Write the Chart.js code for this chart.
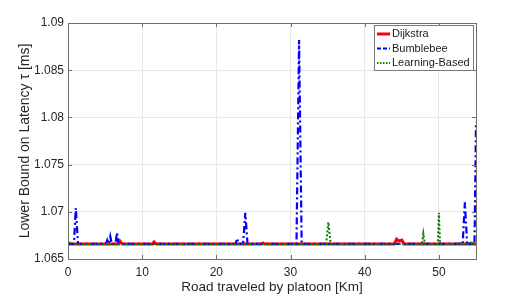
<!DOCTYPE html>
<html>
<head>
<meta charset="utf-8">
<script src="https://cdn.jsdelivr.net/npm/chart.js@4"></script>
<style>
  html, body { margin: 0; padding: 0; background: #fff; }
  #wrap { width: 526px; height: 297px; }
</style>
</head>
<body>
<div id="wrap"><canvas id="myChart" width="526" height="297"></canvas></div>
<script>
// Datos
const base = 1.0666;

const dijkstraKm = [0, 6.8, 7.0, 7.3, 11.4, 11.6, 11.9, 26.1, 26.3, 26.5, 44.0, 44.3, 44.6, 45.0, 45.3, 55];
const dijkstraLat = [base, base, 1.0669, base, base, 1.0668, base, base, 1.0667, base, base, 1.0671, 1.0669, 1.0670, base, base];

const bumblebeeKm = [0, 0.8, 1.05, 1.35, 5.1, 5.3, 5.5, 5.7, 5.9, 6.4, 6.6, 6.8, 22.6, 22.8, 23.0, 23.6, 23.9, 24.2, 30.8, 31.15, 31.5, 53.2, 53.5, 53.8, 54.2, 54.4, 54.6, 54.8, 55];
const bumblebeeLat = [base, base, 1.0704, base, base, 1.0670, base, 1.0674, base, base, 1.0678, base, base, 1.0672, base, base, 1.0699, base, base, 1.0882, base, base, 1.0710, base, base, 1.0669, base, base, 1.0795];

const learningKm = [0, 0.2, 0.5, 34.8, 35.1, 35.4, 47.7, 47.9, 48.1, 49.85, 50.0, 50.15, 52.5, 52.7, 52.9, 54.2, 54.4, 54.6, 55];
const learningLat = [1.0667, 1.0669, base, base, 1.0689, base, base, 1.0677, base, base, 1.0699, base, base, 1.0668, base, base, 1.0669, base, base];

const xTicks = [0, 10, 20, 30, 40, 50];
const yTicks = [1.065, 1.07, 1.075, 1.08, 1.085, 1.09];

const toPoints = (xs, ys) => xs.map((x, i) => ({ x: x, y: ys[i] }));

const series = [
    { label: 'Dijkstra', color: '#ff0000', width: 3, dash: [], legendDash: [], pts: toPoints(dijkstraKm, dijkstraLat) },
    { label: 'Bumblebee', color: '#0000ff', width: 2.2, dash: [7, 3, 2, 3], legendDash: [4, 2], pts: toPoints(bumblebeeKm, bumblebeeLat) },
    { label: 'Learning-Based', color: '#008000', width: 2, dash: [2, 2], legendDash: [1.5, 1.5], pts: toPoints(learningKm, learningLat) }
];

// caja, marcas y leyenda estilo matlab
const boxPlugin = {
    id: 'boxPlugin',
    afterDatasetsDraw(chart) {
        const ctx = chart.ctx;
        const a = chart.chartArea;
        const xs = chart.scales.x;
        const ys = chart.scales.y;
        ctx.save();
        ctx.strokeStyle = '#6e6e6e';
        ctx.lineWidth = 1;
        ctx.strokeRect(Math.round(a.left) + 0.5, Math.round(a.top) + 0.5, Math.round(a.right - a.left), Math.round(a.bottom - a.top));
        ctx.beginPath();
        xTicks.forEach(t => {
            const px = Math.round(xs.getPixelForValue(t)) + 0.5;
            ctx.moveTo(px, a.bottom); ctx.lineTo(px, a.bottom - 4);
            ctx.moveTo(px, a.top); ctx.lineTo(px, a.top + 4);
        });
        yTicks.forEach(t => {
            const py = Math.round(ys.getPixelForValue(t)) + 0.5;
            ctx.moveTo(a.left, py); ctx.lineTo(a.left + 4, py);
            ctx.moveTo(a.right, py); ctx.lineTo(a.right - 4, py);
        });
        ctx.stroke();

        // leyenda
        const lx = 374, ly = 25, lw = 99, lh = 45;
        ctx.fillStyle = '#ffffff';
        ctx.fillRect(lx, ly, lw, lh);
        ctx.strokeStyle = '#7a7a7a';
        ctx.strokeRect(lx + 0.5, ly + 0.5, lw, lh);
        ctx.font = '11px "Liberation Sans", Arial, sans-serif';
        ctx.textBaseline = 'middle';
        series.forEach((s, i) => {
            const yy = 34 + i * 14.5;
            ctx.beginPath();
            ctx.strokeStyle = s.color;
            ctx.lineWidth = s.width;
            ctx.setLineDash(s.legendDash);
            ctx.moveTo(377, yy);
            ctx.lineTo(390, yy);
            ctx.stroke();
            ctx.setLineDash([]);
            ctx.fillStyle = '#1a1a1a';
            ctx.fillText(s.label, 392, yy);
        });
        ctx.restore();
    }
};

const ctx = document.getElementById('myChart');

new Chart(ctx, {
    type: 'line',
    data: {
        datasets: series.map(s => ({
            label: s.label,
            data: s.pts,
            borderColor: s.color,
            borderWidth: s.width,
            borderDash: s.dash,
            pointRadius: 0,
            tension: 0,
            fill: false
        })).reverse()
    },
    options: {
        responsive: false,
        animation: false,
        layout: { padding: { left: 0, right: 50, top: 23, bottom: 0 } },
        plugins: {
            legend: { display: false },
            tooltip: { enabled: false }
        },
        scales: {
            x: {
                type: 'linear',
                min: 0,
                max: 55,
                afterBuildTicks: (scale) => { scale.ticks = xTicks.map(v => ({ value: v })); },
                afterFit: (scale) => { scale.height = 38; },
                grid: { color: '#e8e8e8', drawTicks: false },
                border: { display: false },
                ticks: { color: '#262626', padding: 6, maxRotation: 0, font: { size: 12, family: '"Liberation Sans", Arial' } },
                title: {
                    display: true,
                    text: 'Road traveled by platoon [Km]',
                    color: '#262626',
                    padding: { top: 0, bottom: 2 },
                    font: { size: 13.5, family: '"Liberation Sans", Arial' }
                }
            },
            y: {
                type: 'linear',
                min: 1.065,
                max: 1.09,
                afterBuildTicks: (scale) => { scale.ticks = yTicks.map(v => ({ value: v })); },
                afterFit: (scale) => { scale.width = 68; },
                grid: { color: '#e8e8e8', drawTicks: false },
                border: { display: false },
                ticks: {
                    color: '#262626',
                    padding: 4,
                    font: { size: 12, family: '"Liberation Sans", Arial' },
                    callback: (v) => String(parseFloat(v.toFixed(3)))
                },
                title: {
                    display: true,
                    text: 'Lower Bound on Latency τ [ms]',
                    color: '#262626',
                    padding: { top: 17, bottom: 0 },
                    font: { size: 14, family: '"Liberation Sans", Arial' }
                }
            }
        }
    },
    plugins: [boxPlugin]
});
</script>
</body>
</html>
